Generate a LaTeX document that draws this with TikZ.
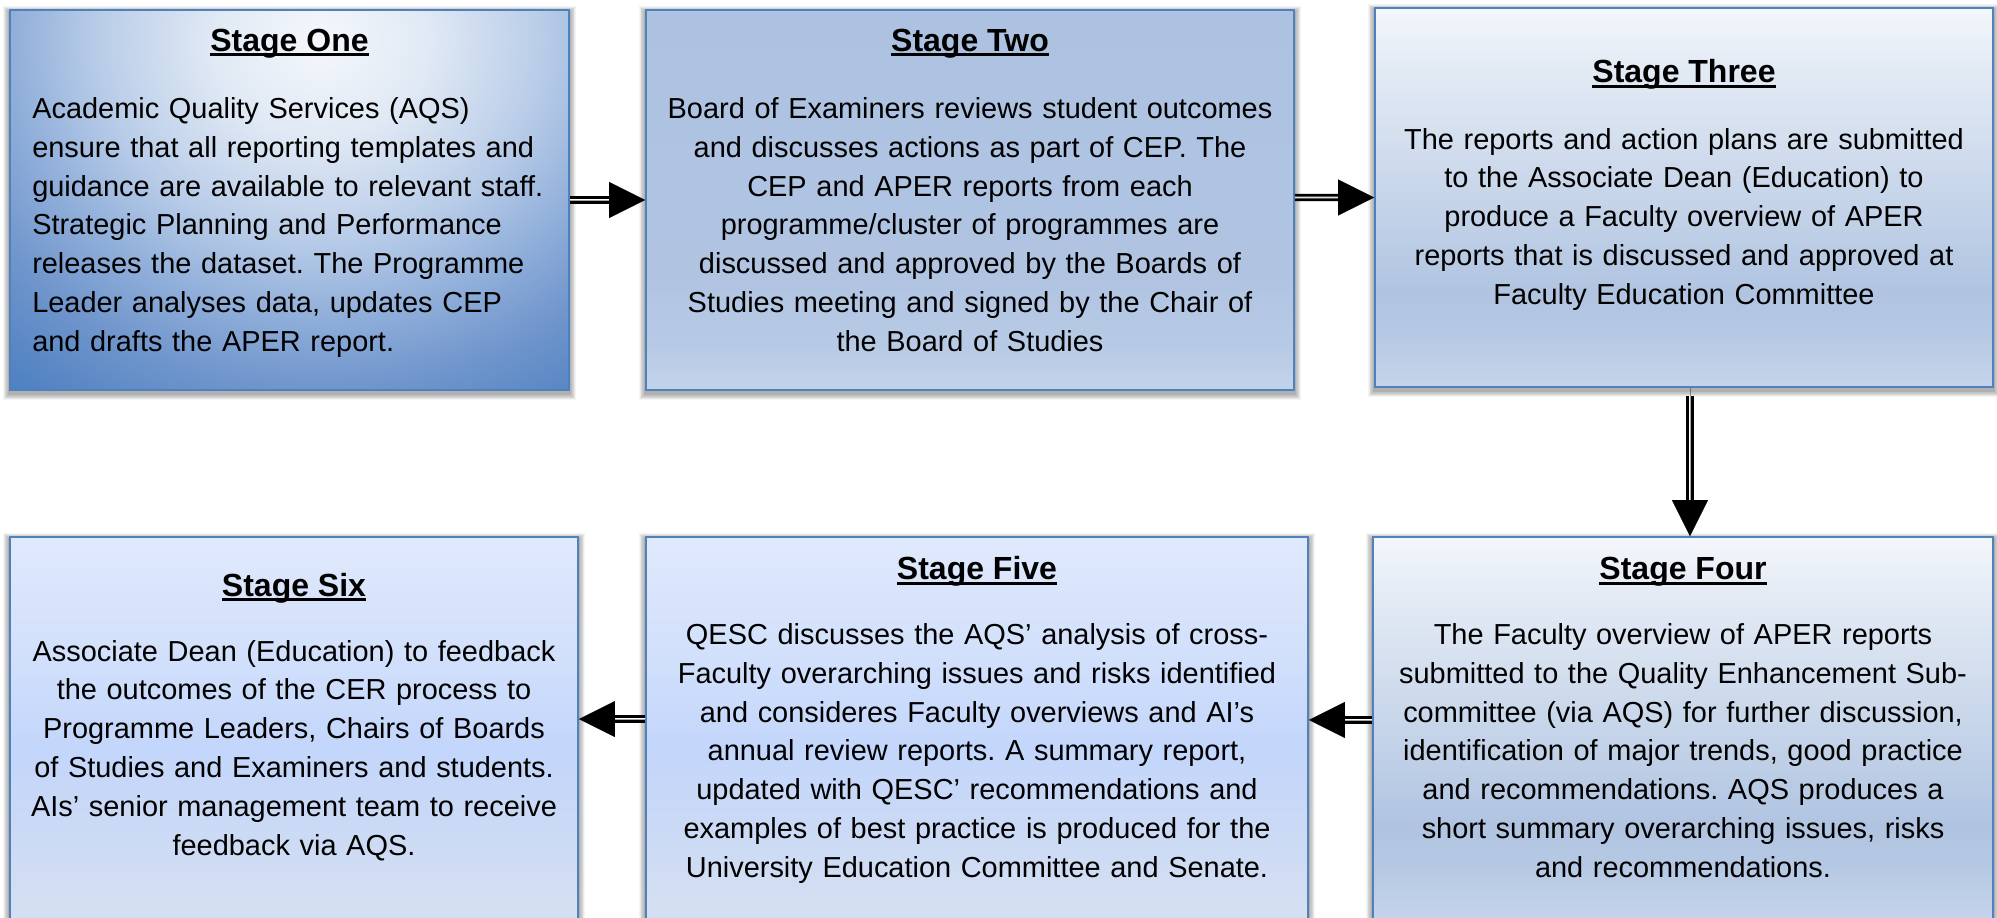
\documentclass[tikz,border=0pt]{standalone}
\usepackage{fontspec}
\setmainfont{Liberation Sans}
\usetikzlibrary{arrows.meta,calc}
\frenchspacing

% outline and fill colours
\definecolor{edgeblue}{HTML}{4F81BD}
% stage one: radial glow
\definecolor{ga}{HTML}{F5F8FC}
\definecolor{gb}{HTML}{DFE8F4}
\definecolor{gc}{HTML}{B8CCE8}
\definecolor{gd}{HTML}{8EADD9}
\definecolor{ge}{HTML}{6F95CC}
\definecolor{gf}{HTML}{5283C2}
\definecolor{gg}{HTML}{4677BA}
% stage two
\definecolor{ta}{HTML}{C3D3EA}
\definecolor{tb}{HTML}{B7CAE5}
\definecolor{tc}{HTML}{B0C4E2}
\definecolor{td}{HTML}{ADC2E1}
% stages three and four
\definecolor{ha}{HTML}{C5D4EA}
\definecolor{hb}{HTML}{B5C8E3}
\definecolor{hc}{HTML}{B0C4E1}
\definecolor{hd}{HTML}{C8D6EA}
\definecolor{he}{HTML}{E4EBF5}
\definecolor{hf}{HTML}{F4F7FB}
% stages five and six
\definecolor{fa}{HTML}{D5E0F1}
\definecolor{fb}{HTML}{CAD9F5}
\definecolor{fc}{HTML}{C3D6FB}
\definecolor{fd}{HTML}{D2E0FB}
\definecolor{fe}{HTML}{E0E9FC}

\pgfdeclareradialshading{glowone}{\pgfpoint{0bp}{0bp}}{%
  color(0bp)=(ga); color(5bp)=(gb); color(10bp)=(gc); color(14bp)=(gd);
  color(17.5bp)=(ge); color(21.5bp)=(gf); color(25bp)=(gg); color(50bp)=(gg)}
\pgfdeclareverticalshading{fadetwo}{100bp}{%
  color(0bp)=(ta); color(25bp)=(ta); color(31bp)=(tb); color(40bp)=(tc);
  color(75bp)=(td); color(100bp)=(td)}
\pgfdeclareverticalshading{fadethree}{100bp}{%
  color(0bp)=(ha); color(25bp)=(ha); color(32.5bp)=(hb); color(37.5bp)=(hc);
  color(51bp)=(hd); color(67.5bp)=(he); color(75bp)=(hf); color(100bp)=(hf)}
\pgfdeclareverticalshading{fadefive}{100bp}{%
  color(0bp)=(fa); color(25bp)=(fa); color(37.5bp)=(fb); color(47.5bp)=(fc);
  color(60bp)=(fd); color(75bp)=(fe); color(100bp)=(fe)}

\pgfdeclarelayer{shadowlayer}
\pgfdeclarelayer{filllayer}
\pgfsetlayers{shadowlayer,filllayer,main}

% underlined heading
\newcommand\stageul[1]{\setbox0\hbox{#1}\rlap{\vrule height -0.07em depth 0.16em width \wd0}\box0}

% soft shadow under a box
\newcommand\softshadow[1]{%
  \foreach \k in {1,...,8}{%
    \fill[black,opacity=0.045]
      ([xshift=-\k*0.55pt,yshift=-2.2pt+\k*0.55pt]#1.north west)
      rectangle ([xshift=\k*0.55pt,yshift=-2.2pt-\k*0.55pt]#1.south east);}}

\begin{document}
\begin{tikzpicture}[x=0.75pt,y=-0.75pt,
  stagebox/.style 2 args={draw=edgeblue, line width=1.4pt, rectangle, inner sep=0pt,
    minimum width=#1*0.75pt, minimum height=#2*0.75pt},
  titletext/.style={font=\fontsize{24}{28}\selectfont\bfseries, inner sep=0pt, anchor=base},
  bodytext/.style={font=\fontsize{21.7}{29.1}\selectfont, inner sep=0pt, align=center, anchor=base},
  shaft/.style={draw=black, line width=2.1pt, double=white, double distance=1.3pt, shorten >=24pt},
  head/.style={-{Triangle[length=27pt,width=27pt]}, line width=0.01pt}]

\useasboundingbox (0,0) rectangle (1997,917);

% boxes
\node[stagebox={559}{380}] (s1) at (289.5,200) {};
\node[stagebox={648}{380}] (s2) at (970,200) {};
\node[stagebox={618}{379}] (s3) at (1684,197.5) {};
\node[stagebox={620}{383}] (s4) at (1683,728.5) {};
\node[stagebox={662}{383}] (s5) at (977,728.5) {};
\node[stagebox={568}{383}] (s6) at (294,728.5) {};

% shadows and fills behind the outlines
\begin{pgfonlayer}{shadowlayer}
  \fill[white] (0,0) rectangle (1997,917);
  \softshadow{s1}\softshadow{s2}\softshadow{s3}
  \softshadow{s4}\softshadow{s5}\softshadow{s6}
\end{pgfonlayer}
\begin{pgfonlayer}{filllayer}
  \begin{scope}
    \clip (s1.south west) rectangle (s1.north east);
    \shade[shading=glowone] (-240,-460) rectangle (880,540);
  \end{scope}
  \shade[shading=fadetwo] (s2.south west) rectangle (s2.north east);
  \shade[shading=fadethree] (s3.south west) rectangle (s3.north east);
  \shade[shading=fadethree] (s4.south west) rectangle (s4.north east);
  \shade[shading=fadefive] (s5.south west) rectangle (s5.north east);
  \shade[shading=fadefive] (s6.south west) rectangle (s6.north east);
\end{pgfonlayer}

% headings
\node[titletext] (t1) at (289.5,51) {\stageul{Stage One}};
\node[titletext] (t2) at (970,51) {\stageul{Stage Two}};
\node[titletext] (t3) at (1684,82.8) {\stageul{Stage Three}};
\node[titletext] (t4) at (1683,579.5) {\stageul{Stage Four}};
\node[titletext] (t5) at (977,579.5) {\stageul{Stage Five}};
\node[titletext] (t6) at (294,596) {\stageul{Stage Six}};

% descriptions
\node[bodytext, align=left, anchor=base west, text width=410pt] (b1) at (32,118.5)
  {Academic Quality Services (AQS)\\
   ensure that all reporting templates and\\
   guidance are available to relevant staff.\\
   Strategic Planning and Performance\\
   releases the dataset. The Programme\\
   Leader analyses data, updates CEP\\
   and drafts the APER report.};
\node[bodytext, text width=480pt] (b2) at (970,118.5)
  {Board of Examiners reviews student outcomes\\
   and discusses actions as part of CEP. The\\
   CEP and APER reports from each\\
   programme/cluster of programmes are\\
   discussed and approved by the Boards of\\
   Studies meeting and signed by the Chair of\\
   the Board of Studies};
\node[bodytext, text width=455pt] (b3) at (1684,149)
  {The reports and action plans are submitted\\
   to the Associate Dean (Education) to\\
   produce a Faculty overview of APER\\
   reports that is discussed and approved at\\
   Faculty Education Committee};
\node[bodytext, text width=455pt] (b4) at (1683,644.5)
  {The Faculty overview of APER reports\\
   submitted to the Quality Enhancement Sub-\\
   committee (via AQS) for further discussion,\\
   identification of major trends, good practice\\
   and recommendations. AQS produces a\\
   short summary overarching issues, risks\\
   and recommendations.};
\node[bodytext, text width=490pt] (b5) at (977,644.5)
  {QESC discusses the AQS’ analysis of cross-\\
   Faculty overarching issues and risks identified\\
   and consideres Faculty overviews and AI’s\\
   annual review reports. A summary report,\\
   updated with QESC’ recommendations and\\
   examples of best practice is produced for the\\
   University Education Committee and Senate.};
\node[bodytext, text width=420pt] (b6) at (294,661)
  {Associate Dean (Education) to feedback\\
   the outcomes of the CER process to\\
   Programme Leaders, Chairs of Boards\\
   of Studies and Examiners and students.\\
   AIs’ senior management team to receive\\
   feedback via AQS.};

% connectors: double shaft, then a solid head
\draw[shaft] (s1.east) -- (s2.west);
\draw[head]  (s1.east) -- (s2.west);
\draw[shaft] ([yshift=1.9pt]s2.east) -- (s3.west);
\draw[head]  ([yshift=1.9pt]s2.east) -- (s3.west);
\draw[shaft, shorten <=6pt] ([xshift=4.5pt]s3.south) -- ([xshift=5.25pt]s4.north);
\draw[head]  ([xshift=4.5pt]s3.south) -- ([xshift=5.25pt]s4.north);
\draw[shaft] ([yshift=6.4pt]s4.west) -- ([yshift=6.4pt]s5.east);
\draw[head]  ([yshift=6.4pt]s4.west) -- ([yshift=6.4pt]s5.east);
\draw[shaft] ([yshift=7.1pt]s5.west) -- ([yshift=7.1pt]s6.east);
\draw[head]  ([yshift=7.1pt]s5.west) -- ([yshift=7.1pt]s6.east);
\end{tikzpicture}
\end{document}
